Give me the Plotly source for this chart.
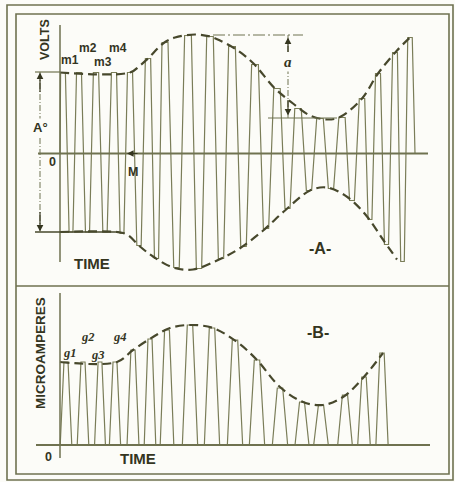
import numpy as np
import plotly.graph_objects as go

# ---------------- data ----------------
# Panel A : modulated carrier (volts vs time), time in arbitrary units
A_peak_t = [3, 19, 36, 54, 70, 88, 105, 128, 150, 172, 195, 217, 238, 260, 282, 302, 318, 335, 350]
A_peak_v = [81, 81, 81, 81, 81, 95, 111, 118, 117, 107, 89, 65, 45, 35, 36, 55, 80, 101, 116]
A_trough_t = [11, 27.5, 45, 62, 79, 96.5, 116.5, 139, 161, 183.5, 206, 227.5, 249, 271, 292, 310, 326.5, 342.5]
A_trough_v = [78.5, 78.5, 78.5, 80, 92, 105, 114, 115, 105, 93, 75, 55, 37, 35, 47, 66, 91, 108]
A_end_t = 355

A_env_top_t = [0, 70, 80, 88, 103, 115, 135, 150, 160, 177, 193, 215, 233, 250, 267, 280, 302, 318, 337, 350]
A_env_top_v = [81, 81, 88, 95, 110, 116, 119, 117, 113, 103.5, 90.5, 65, 50, 38, 34, 36.5, 55, 80, 103, 116]
A_env_bot_t = [0, 57, 67, 80, 93, 113, 133, 157, 178, 202, 225, 250, 267, 288, 307, 323, 337]
A_env_bot_v = [78.5, 78.5, 81, 93, 103, 114, 116, 107, 96, 78, 57, 37, 34, 44, 63, 86, 106]

A_labels_m = ["m1", "m2", "m3", "m4"]
A_labels_m_t = [10, 28, 43, 58]
A_labels_m_v = [93.5, 105.5, 91.5, 105.5]

# Panel B : rectified current pulses (microamperes vs time)
B_pulse_t = [6, 23, 40, 55, 73, 90, 107, 130, 152, 175, 197, 220, 242, 261, 285, 304, 322]
B_pulse_v = [83, 83, 83, 83, 95, 106, 115, 120, 117, 105, 85, 57, 43, 40, 50, 68, 92]
B_env_t = [0, 57, 73, 93, 110, 130, 153, 177, 197, 220, 243, 263, 283, 303, 323]
B_env_v = [83, 83, 95, 108, 117, 120, 117, 103, 85, 58, 43, 40, 48, 67, 92]

B_labels_g = ["g1", "g2", "g3", "g4"]
B_labels_g_t = [10, 28, 38, 60]
B_labels_g_v = [92, 108, 90, 108]

# ---------------- styles ----------------
BG = "#fcfcf8"
INK = "#34351f"
WAVE = "#7a7d58"
ENV = "#47482c"
FRAME = "#6f7250"
FONT = "Liberation Sans"
DASH = "9px,5px"

# ---------------- build waveform of panel A ----------------
pt = np.array(A_peak_t, float)
per_p = np.gradient(pt)
wx, wy = [0.0], [0.0]
for i in range(len(pt)):
    w = 0.15 * per_p[i]
    wx += [pt[i] - w, pt[i] + w]
    wy += [A_peak_v[i], A_peak_v[i]]
    if i < len(A_trough_t):
        q = A_trough_t[i]
        wq = 0.12 * (pt[i + 1] - pt[i])
        wx += [q - wq, q + wq]
        wy += [-A_trough_v[i], -A_trough_v[i]]
wx.append(A_end_t)
wy.append(0.0)

# ---------------- build pulses of panel B ----------------
bt = np.array(B_pulse_t, float)
per_b = np.gradient(bt)
px, py = [], []
for i in range(len(bt)):
    bw = 0.34 * per_b[i]
    tw = 0.12 * per_b[i]
    px += [bt[i] - bw, bt[i] - tw, bt[i] + tw, bt[i] + bw]
    py += [0, B_pulse_v[i], B_pulse_v[i], 0]

fig = go.Figure()

common = dict(mode="lines", hoverinfo="skip", showlegend=False)
fig.add_trace(go.Scatter(x=wx, y=wy, line=dict(color=WAVE, width=1.2), xaxis="x", yaxis="y", **common))
fig.add_trace(go.Scatter(x=A_env_top_t, y=A_env_top_v, line=dict(color=ENV, width=2.2, dash=DASH, shape="spline"),
                         xaxis="x", yaxis="y", **common))
fig.add_trace(go.Scatter(x=A_env_bot_t, y=[-v for v in A_env_bot_v],
                         line=dict(color=ENV, width=2.2, dash=DASH, shape="spline"),
                         xaxis="x", yaxis="y", **common))
fig.add_trace(go.Scatter(x=px, y=py, line=dict(color=WAVE, width=1.2), xaxis="x", yaxis="y2", **common))
fig.add_trace(go.Scatter(x=B_env_t, y=B_env_v, line=dict(color=ENV, width=2.2, dash=DASH, shape="spline"),
                         xaxis="x", yaxis="y2", **common))

shapes = []
def pline(x0, y0, x1, y1, w=1.6, color=FRAME):
    # paper-pixel helper for the frame
    shapes.append(dict(type="line", xref="paper", yref="paper",
                       x0=x0 / 455, x1=x1 / 455, y0=1 - y0 / 482, y1=1 - y1 / 482,
                       line=dict(color=color, width=w)))

# frames and divider
shapes.append(dict(type="rect", xref="paper", yref="paper", x0=7 / 455, x1=453 / 455,
                   y0=1 - 480 / 482, y1=1 - 5 / 482, line=dict(color=FRAME, width=1.6)))
shapes.append(dict(type="rect", xref="paper", yref="paper", x0=16 / 455, x1=449 / 455,
                   y0=1 - 474 / 482, y1=1 - 14 / 482, line=dict(color=FRAME, width=1.6)))
pline(16, 286, 449, 286)

def dline(x0, y0, x1, y1, yref="y", w=1.5, color=FRAME, dash="solid"):
    shapes.append(dict(type="line", xref="x", yref=yref, x0=x0, x1=x1, y0=y0, y1=y1,
                       line=dict(color=color, width=w, dash=dash)))

# panel A axes and construction lines
dline(0, 128.5, 0, -108.5)
dline(-22, 0, 368, 0, w=1.8)
dline(-25, 81.5, 0, 81.5, w=1.2)
dline(-25, -78.5, 57, -78.5, w=1.4, color=ENV)
dline(-20, 81.5, -20, -78.5, w=1, dash="6px,2px,1px,2px")
dline(153, 118.5, 243, 118.5, w=1.2, dash="12px,3px,2px,3px")
dline(208, 35.5, 277, 35.5, w=1.2)
dline(228, 118.5, 228, 35.5, w=1, dash="6px,2px,1px,2px")
# panel B axes
dline(0, 152, 0, -13, yref="y2")
dline(-24, 0, 370, 0, yref="y2", w=1.8)

ann = []
def txt(t, x, y, size=13, yref="y", angle=0, bg=None, font=FONT):
    d = dict(text=t, x=x, y=y, xref="x", yref=yref, showarrow=False, textangle=angle,
             font=dict(family=font, size=size, color=INK), xanchor="center", yanchor="middle")
    if bg:
        d["bgcolor"] = bg
    ann.append(d)

def arrow(x, y, ax, ay, yref="y"):
    ann.append(dict(text="", x=x, y=y, ax=ax, ay=ay, xref="x", yref=yref, axref="x", ayref=yref,
                    showarrow=True, arrowhead=2, arrowsize=1.1, arrowwidth=1.2, arrowcolor=INK))

txt("<b>VOLTS</b>", -15, 113.5, size=12.5, angle=-90)
for lab, t, v in zip(A_labels_m, A_labels_m_t, A_labels_m_v):
    txt("<b>%s</b>" % lab, t, v, size=12)
txt("<b>A°</b>", -20, 26.5, size=13, bg=BG)
txt("<b>0</b>", -8, -8.5, size=12.5)
txt("<b>M</b>", 73, -18.5, size=12.5)
txt("<b><i>a</i></b>", 228, 91.5, size=15, bg=BG, font="Liberation Serif")
txt("<b>TIME</b>", 32, -109.5, size=15)
txt("<b>-A-</b>", 260, -94.5, size=16)
arrow(-20, 81, -20, 60)
arrow(-20, -78, -20, -57)
arrow(228, 116, 228, 100)
arrow(228, 38, 228, 55)
arrow(67, 0, 79, 0)

txt("<b>MICROAMPERES</b>", -20, 92, size=13.5, yref="y2", angle=-90)
for lab, t, v in zip(B_labels_g, B_labels_g_t, B_labels_g_v):
    txt("<b><i>%s</i></b>" % lab, t, v, size=12.5, yref="y2", font="Liberation Serif")
txt("<b>0</b>", -12, -12, size=12.5, yref="y2")
txt("<b>TIME</b>", 78, -13, size=15, yref="y2")
txt("<b>-B-</b>", 258, 113, size=16, yref="y2")

fig.update_layout(
    width=455, height=482,
    margin=dict(l=0, r=0, t=0, b=0),
    paper_bgcolor=BG, plot_bgcolor=BG,
    xaxis=dict(range=[-60, 395], domain=[0, 1], visible=False, fixedrange=True),
    yaxis=dict(range=[-328.5, 153.5], domain=[0, 1], visible=False, fixedrange=True),
    yaxis2=dict(range=[-37, 445], domain=[0, 1], overlaying="y", visible=False, fixedrange=True),
    shapes=shapes, annotations=ann,
)

fig.write_html("out.html", config={"displayModeBar": False},
               post_script="document.body.style.margin='0';document.body.style.overflow='hidden';")
